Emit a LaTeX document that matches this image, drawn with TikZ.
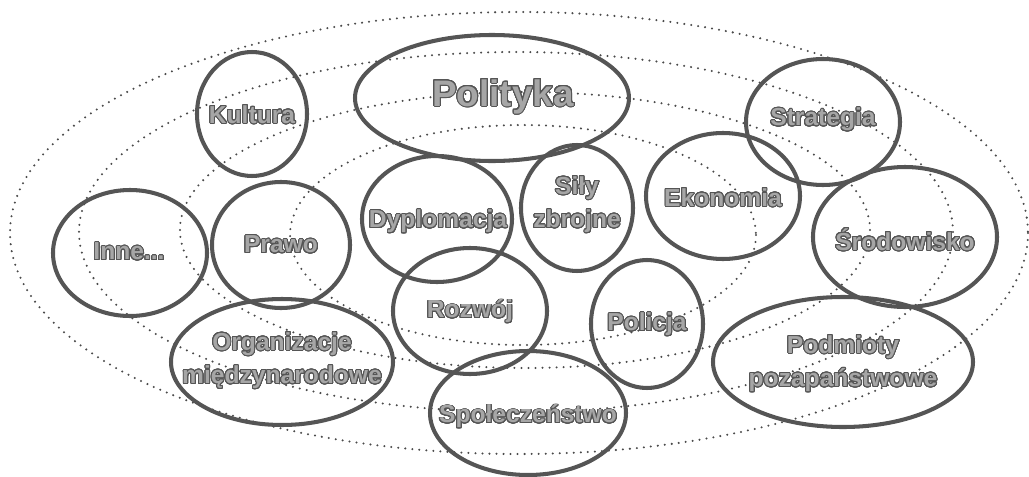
\documentclass[tikz,border=0pt]{standalone}
\usepackage{fontspec}
\setmainfont{Liberation Sans}
\usepackage[copies]{contour}
\contourlength{0.55pt}
\contournumber{32}
\definecolor{ringgray}{HTML}{555555}
\definecolor{fillgray}{HTML}{A6A6A6}
\definecolor{dotgray}{HTML}{4A4A4A}
\newcommand{\otext}[1]{\contour{ringgray}{\textcolor{fillgray}{#1}}}
\tikzset{
  orbit/.style={draw=dotgray, line width=1.3pt, line cap=round, dash pattern=on 0pt off 4pt},
  ring/.style={draw=ringgray, line width=2.3pt},
  label/.style={align=center, inner sep=0pt, font=\bfseries\fontsize{14}{19}\selectfont},
  biglabel/.style={label, font=\bfseries\fontsize{21}{25}\selectfont},
}

\begin{document}
\begin{tikzpicture}[x=0.02cm, y=-0.02cm]
    \useasboundingbox (0,0) rectangle (1029,477);

    % dotted orbits
    \draw[orbit] (519,233) ellipse [x radius=509, y radius=221];
    \draw[orbit] (516,232) ellipse [x radius=437, y radius=180];
    \draw[orbit] (525,230) ellipse [x radius=345, y radius=138];
    \draw[orbit] (523,235) ellipse [x radius=233, y radius=110];

    % rings
    \draw[ring] (252,114) ellipse [x radius=55, y radius=62];
    \draw[ring] (492,98) ellipse [x radius=137, y radius=63];
    \draw[ring] (130,253) ellipse [x radius=77, y radius=63];
    \draw[ring] (281,245) ellipse [x radius=69, y radius=63];
    \draw[ring] (437,219) ellipse [x radius=75, y radius=63];
    \draw[ring] (577,208) ellipse [x radius=56, y radius=63];
    \draw[ring] (723,196) ellipse [x radius=77, y radius=63];
    \draw[ring] (823,122) ellipse [x radius=77, y radius=63];
    \draw[ring] (905,237) ellipse [x radius=92, y radius=70];
    \draw[ring] (470,311) ellipse [x radius=77, y radius=63];
    \draw[ring] (647,324) ellipse [x radius=56, y radius=64];
    \draw[ring] (282,362) ellipse [x radius=111, y radius=63];
    \draw[ring] (528,413) ellipse [x radius=98, y radius=62];
    \draw[ring] (843,362) ellipse [x radius=130, y radius=65];

    % labels
    \node[label] (kultura) at (252,115) {\otext{Kultura}};
    \node[biglabel] (polityka) at (503,97) {\otext{Polityka}};
    \node[label] (inne) at (129,252) {\otext{Inne...}};
    \node[label] (prawo) at (281,245) {\otext{Prawo}};
    \node[label] (dyplomacja) at (438,222) {\otext{Dyplomacja}};
    \node[label] (sily) at (577,205) {\otext{Siły}\\\otext{zbrojne}};
    \node[label] (ekonomia) at (723,198) {\otext{Ekonomia}};
    \node[label] (strategia) at (823,120) {\otext{Strategia}};
    \node[label] (srodowisko) at (905,240) {\otext{Środowisko}};
    \node[label] (rozwoj) at (470,312) {\otext{Rozwój}};
    \node[label] (policja) at (647,325) {\otext{Policja}};
    \node[label] (organizacje) at (282,361) {\otext{Organizacje}\\\otext{międzynarodowe}};
    \node[label] (spoleczenstwo) at (528,417) {\otext{Społeczeństwo}};
    \node[label] (podmioty) at (843,364) {\otext{Podmioty}\\\otext{pozapaństwowe}};
\end{tikzpicture}
\end{document}
